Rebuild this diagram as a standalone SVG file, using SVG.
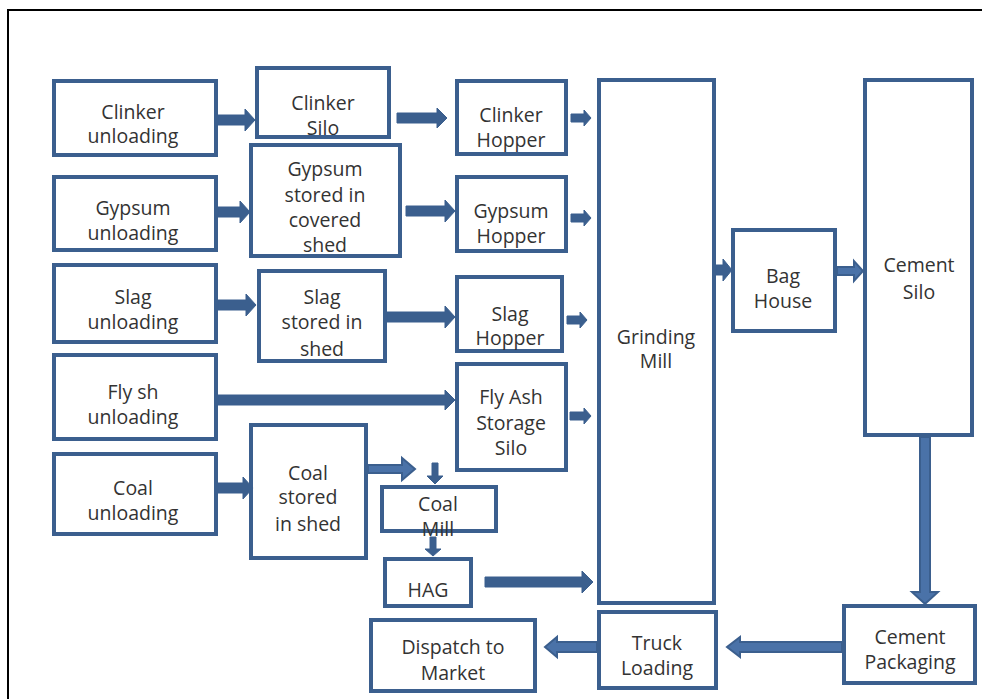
<svg xmlns="http://www.w3.org/2000/svg" width="982" height="699" viewBox="0 0 982 699">
<style>
.b{fill:#fff;stroke:#3B5F8E;stroke-width:4}
.t{font-family:"Open Sans","Noto Sans",sans-serif;font-size:19.5px;fill:#333;text-anchor:middle}
.a{fill:#3B5F8E;stroke:#3B5F8E;stroke-width:1}
.d{fill:#4A72A8;stroke:#3B5F8E;stroke-width:2}
</style>
<rect x="0" y="0" width="982" height="699" fill="#fff"/>
<rect x="8" y="10" width="990" height="700" fill="none" stroke="#000" stroke-width="2"/>

<g id="clinker-unloading"><rect class="b" x="54" y="81" width="162" height="74"/><text class="t" x="133" y="119">Clinker</text><text class="t" x="133" y="143">unloading</text></g>
<g id="clinker-silo"><rect class="b" x="257" y="68" width="132" height="69"/><text class="t" x="323" y="110">Clinker</text><text class="t" x="323" y="135">Silo</text></g>
<g id="gypsum-stored"><rect class="b" x="251" y="145" width="149" height="111"/><text class="t" x="325" y="176">Gypsum</text><text class="t" x="325" y="202">stored in</text><text class="t" x="325" y="227">covered</text><text class="t" x="325" y="252">shed</text></g>
<g id="gypsum-unloading"><rect class="b" x="54" y="177" width="162" height="73"/><text class="t" x="133" y="215">Gypsum</text><text class="t" x="133" y="240">unloading</text></g>
<g id="clinker-hopper"><rect class="b" x="457" y="81" width="109" height="73"/><text class="t" x="511" y="122">Clinker</text><text class="t" x="511" y="147">Hopper</text></g>
<g id="gypsum-hopper"><rect class="b" x="457" y="177" width="109" height="74"/><text class="t" x="511" y="218">Gypsum</text><text class="t" x="511" y="243">Hopper</text></g>
<g id="slag-unloading"><rect class="b" x="54" y="265" width="162" height="77"/><text class="t" x="133" y="304">Slag</text><text class="t" x="133" y="329">unloading</text></g>
<g id="slag-stored"><rect class="b" x="259" y="271" width="126" height="90"/><text class="t" x="322" y="304">Slag</text><text class="t" x="322" y="329">stored in</text><text class="t" x="322" y="356">shed</text></g>
<g id="slag-hopper"><rect class="b" x="457" y="277" width="105" height="74"/><text class="t" x="510" y="321">Slag</text><text class="t" x="510" y="345">Hopper</text></g>
<g id="flyash-unloading"><rect class="b" x="54" y="355" width="162" height="84"/><text class="t" x="133" y="399">Fly sh</text><text class="t" x="133" y="424">unloading</text></g>
<g id="flyash-silo"><rect class="b" x="457" y="364" width="109" height="106"/><text class="t" x="511" y="404">Fly Ash</text><text class="t" x="511" y="430">Storage</text><text class="t" x="511" y="455">Silo</text></g>
<g id="coal-unloading"><rect class="b" x="54" y="454" width="162" height="80"/><text class="t" x="133" y="495">Coal</text><text class="t" x="133" y="520">unloading</text></g>
<g id="coal-stored"><rect class="b" x="251" y="425" width="115" height="133"/><text class="t" x="308" y="480">Coal</text><text class="t" x="308" y="504">stored</text><text class="t" x="308" y="531">in shed</text></g>
<g id="coal-mill"><rect class="b" x="382" y="487" width="114" height="44"/><text class="t" x="438" y="511">Coal</text><text class="t" x="438" y="536">Mill</text></g>
<g id="hag"><rect class="b" x="385" y="559" width="86" height="47"/><text class="t" x="428" y="597">HAG</text></g>
<g id="grinding-mill"><rect class="b" x="599" y="80" width="115" height="523"/><text class="t" x="656" y="344">Grinding</text><text class="t" x="656" y="368">Mill</text></g>
<g id="bag-house"><rect class="b" x="733" y="230" width="102" height="101"/><text class="t" x="783" y="283">Bag</text><text class="t" x="783" y="308">House</text></g>
<g id="cement-silo"><rect class="b" x="865" y="80" width="107" height="355"/><text class="t" x="919" y="272">Cement</text><text class="t" x="919" y="299">Silo</text></g>
<g id="cement-packaging"><rect class="b" x="844" y="606" width="131" height="77"/><text class="t" x="910" y="644">Cement</text><text class="t" x="910" y="669">Packaging</text></g>
<g id="truck-loading"><rect class="b" x="599" y="612" width="117" height="76"/><text class="t" x="657" y="650">Truck</text><text class="t" x="657" y="675">Loading</text></g>
<g id="dispatch"><rect class="b" x="371" y="620" width="164" height="71"/><text class="t" x="453" y="654">Dispatch to</text><text class="t" x="453" y="680">Market</text></g>

<g id="connectors">
<polygon class="a" points="218,115 245,115 245,109 255,120 245,131 245,125 218,125"/>
<polygon class="a" points="397,113 437,113 437,108 447,118 437,128 437,123 397,123"/>
<polygon class="a" points="218,207 240,207 240,201 250,212 240,223 240,217 218,217"/>
<polygon class="a" points="406,206 445,206 445,200 455,211 445,222 445,216 406,216"/>
<polygon class="a" points="571,114 584,114 584,110 591,118 584,126 584,122 571,122"/>
<polygon class="a" points="571,214 584,214 584,210 591,218 584,226 584,222 571,222"/>
<polygon class="a" points="218,300 246,300 246,294 256,305 246,316 246,310 218,310"/>
<polygon class="a" points="387,312 445,312 445,306 455,317 445,328 445,322 387,322"/>
<polygon class="a" points="567,316 580,316 580,312 587,320 580,328 580,324 567,324"/>
<polygon class="a" points="218,395 445,395 445,390 455,400 445,410 445,405 218,405"/>
<polygon class="a" points="570,412 584,412 584,408 591,416 584,424 584,420 570,420"/>
<polygon class="a" points="218,483 243,483 243,477 253,488 243,499 243,493 218,493"/>
<polygon class="d" points="368,465 402,465 402,458 415,469 402,480 402,473 368,473"/>
<polygon class="a" points="432,463 438,463 438,476 443,476 435,484 427,476 432,476"/>
<polygon class="a" points="430,537 436,537 436,549 441,549 433,556 425,549 430,549"/>
<polygon class="a" points="485,577 582,577 582,571 593,582 582,593 582,587 485,587"/>
<polygon class="a" points="716,265 723,265 723,259 732,270 723,281 723,275 716,275"/>
<polygon class="d" points="837,267 854,267 854,261 863,271 854,281 854,275 837,275"/>
<polygon class="d" points="920,437 930,437 930,592 938,592 925,604 912,592 920,592"/>
<polygon class="d" points="842,642 740,642 740,637 727,647 740,657 740,652 842,652"/>
<polygon class="d" points="597,642 557,642 557,637 545,647 557,657 557,652 597,652"/>
</g>
</svg>
